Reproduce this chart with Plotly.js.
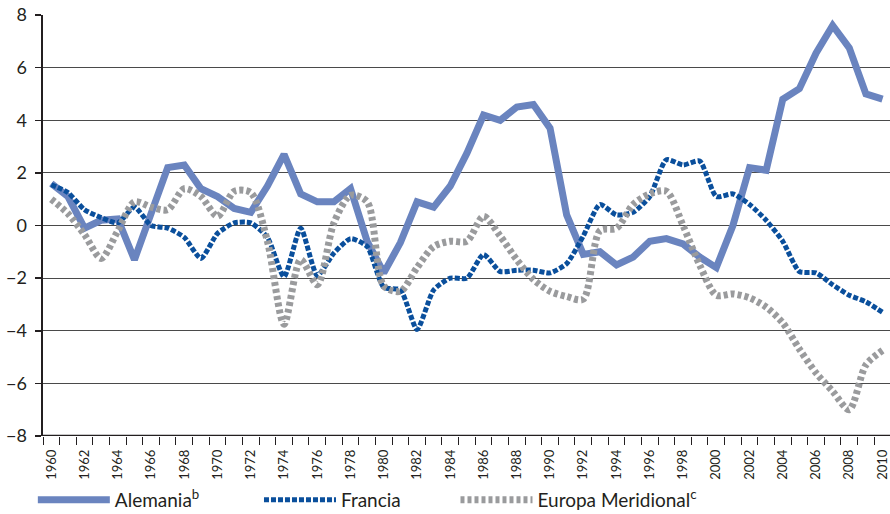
<!DOCTYPE html>
<html>
<head>
<meta charset="utf-8">
<script src="https://cdn.plot.ly/plotly-3.0.1.min.js"></script>
<style>html,body{margin:0;padding:0;background:#fff;}#chart{width:890px;height:514px;}</style>
</head>
<body>
<div id="chart"></div>
<script>
const years = [];
for (let y = 1960; y <= 2010; y++) years.push(y);

const alemania = [1.6, 1.1, -0.1, 0.2, 0.25, -1.3, 0.45, 2.2, 2.3, 1.4, 1.1, 0.65, 0.5, 1.5, 2.7,
  1.2, 0.9, 0.9, 1.4, -0.6, -1.8, -0.65, 0.9, 0.7, 1.5, 2.75, 4.2, 4.0, 4.5, 4.6,
  3.7, 0.4, -1.1, -1.0, -1.5, -1.2, -0.6, -0.5, -0.7, -1.2, -1.6, 0.0, 2.2, 2.1,
  4.8, 5.2, 6.55, 7.6, 6.75, 5.0, 4.8];

const francia = [1.55, 1.25, 0.6, 0.3, 0.1, 0.7, 0.0, -0.1, -0.45, -1.25, -0.3, 0.1, 0.1, -0.45, -1.95,
  -0.1, -1.9, -1.05, -0.5, -0.8, -2.35, -2.45, -3.95, -2.45, -2.0, -2.0, -1.1, -1.75, -1.7, -1.7,
  -1.8, -1.45, -0.4, 0.8, 0.4, 0.5, 1.1, 2.5, 2.3, 2.45, 1.1, 1.2, 0.8, 0.2,
  -0.6, -1.75, -1.8, -2.25, -2.65, -2.9, -3.3];

const europaMeridional = [1.0, 0.45, -0.35, -1.25, -0.2, 0.9, 0.7, 0.6, 1.4, 1.1, 0.35, 1.3, 1.25, -0.6, -3.75,
  -1.3, -2.25, 0.1, 1.15, 0.9, -2.3, -2.5, -1.6, -0.8, -0.6, -0.6, 0.35, -0.4, -1.3, -2.05,
  -2.5, -2.7, -2.8, -0.2, -0.1, 0.8, 1.2, 1.3, 0.0, -1.5, -2.65, -2.6, -2.75, -3.1,
  -3.7, -4.7, -5.6, -6.3, -7.0, -5.3, -4.75];

const tickYears = years.filter(y => y % 2 === 0);
const tickLabels = tickYears.map(String);
const yTicks = [-8, -6, -4, -2, 0, 2, 4, 6, 8];

const fontFam = 'Lato, "Noto Sans", sans-serif';

const traces = [
  {x: years, y: alemania, name: 'Alemania<sup>b</sup>', type: 'scatter', mode: 'lines',
   line: {color: '#6a84bf', width: 7}, legend: 'legend'},
  {x: years, y: francia, name: 'Francia', type: 'scatter', mode: 'lines',
   line: {color: '#0a4f9c', width: 5, dash: '5px,2px', shape: 'spline', smoothing: 0.6}, legend: 'legend2'},
  {x: years, y: europaMeridional, name: 'Europa Meridional<sup>c</sup>', type: 'scatter', mode: 'lines',
   line: {color: '#9a9b9d', width: 7, dash: '4px,3px', shape: 'spline', smoothing: 0.8}, legend: 'legend3'}
];

const legendBase = {orientation: 'h', yanchor: 'middle', y: -0.152, xanchor: 'left',
  font: {family: fontFam, size: 19, color: '#231f20'}, itemwidth: 72, bgcolor: 'rgba(0,0,0,0)',
  tracegroupgap: 0, itemclick: false};

const layout = {
  width: 890, height: 514,
  margin: {l: 43, r: 0, t: 15, b: 78, autoexpand: false},
  paper_bgcolor: '#fff', plot_bgcolor: '#fff',
  showlegend: true,
  legend: Object.assign({}, legendBase, {x: -0.012}),
  legend2: Object.assign({}, legendBase, {x: 0.255}),
  legend3: Object.assign({}, legendBase, {x: 0.487}),
  xaxis: {
    range: [1959.5, 2010.45], tickmode: 'array', tickvals: tickYears, ticktext: tickLabels,
    tickangle: -90, ticks: '', tickfont: {family: fontFam, size: 13, color: '#231f20'},
    ticklabeloverflow: 'allow',
    showgrid: false, zeroline: false, showline: false, ticklabelstandoff: 10,
    minor: {tickmode: 'array', tickvals: years.map(y => y - 0.5), ticks: 'outside', ticklen: 8,
            tickwidth: 1, tickcolor: '#231f20', showgrid: false},
    fixedrange: true
  },
  yaxis: {
    range: [-8, 8], tickmode: 'array', tickvals: yTicks, ticks: 'outside', ticklen: 6, tickwidth: 1.5,
    tickcolor: '#231f20', tickfont: {family: fontFam, size: 18, color: '#231f20'},
    showgrid: true, gridcolor: '#4a4a4a', gridwidth: 1, zeroline: false,
    showline: true, linecolor: '#231f20', linewidth: 2.5, ticklabelstandoff: 4,
    fixedrange: true
  },
  shapes: [
    {type: 'line', xref: 'paper', yref: 'y', x0: 0, x1: 1, y0: -8, y1: -8,
     line: {color: '#231f20', width: 2.5}}
  ]
};

Plotly.newPlot('chart', traces, layout, {displayModeBar: false, staticPlot: true});
</script>
</body>
</html>
